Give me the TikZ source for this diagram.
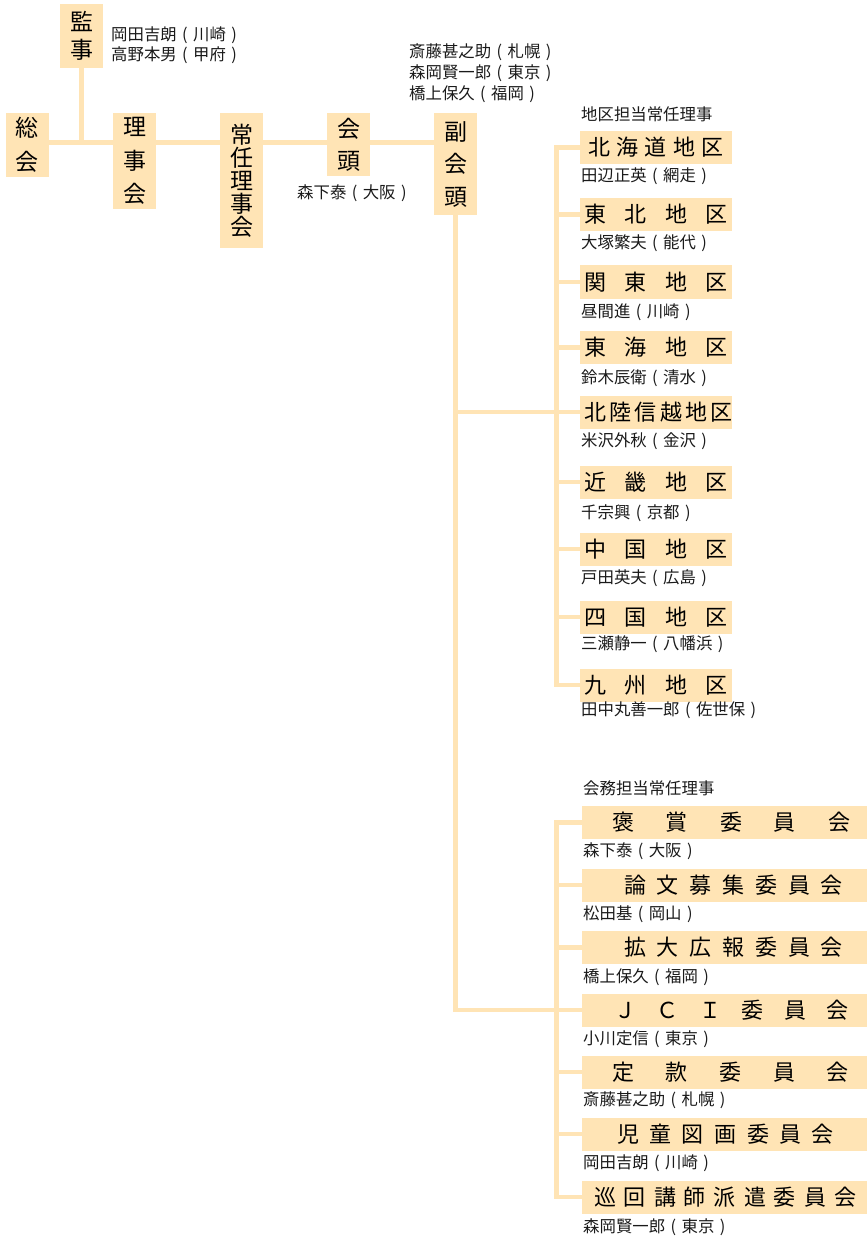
\documentclass[tikz,border=0pt]{standalone}
\usepackage{fontspec}
\setmainfont{Noto Sans CJK JP}
\usepackage{xcolor}
\usetikzlibrary{backgrounds}
\definecolor{boxfill}{HTML}{FFE4B5}
\definecolor{namegray}{HTML}{1A1A1A}
% spread characters over a given width (optional shift of the text)
\newcommand\spreadtext[3][0]{\hspace*{#1pt}\makebox[#2pt][s]{#3}}
% place name in parentheses, each one centred in a full square
\newcommand\place[1]{\makebox[1em]{(}#1\makebox[1em]{)}}

\begin{document}
\begin{tikzpicture}[x=1pt,y=-1pt,
    box/.style={fill=boxfill,inner sep=0pt,text=black},
    vbox/.style={box,minimum width=43pt,align=center},
    areabox/.style={box,minimum width=152pt,minimum height=33pt,font=\fontsize{22}{22}\selectfont},
    dutybox/.style={box,minimum width=285pt,minimum height=33pt,font=\fontsize{22}{22}\selectfont},
    person/.style={inner sep=0pt,text=namegray,anchor=west,font=\fontsize{16.4}{21}\selectfont},
    link/.style={draw=boxfill,line width=4.5pt,line cap=rect}]
        \useasboundingbox (0,0) rectangle (867,1238);

        % Top row: 総会 ... 副会頭
        \node[vbox,minimum height=64pt,font=\fontsize{23}{28}\selectfont] (kanji) at (81.5,36) {監\\事};
        \node[person,align=left,font=\fontsize{16.4}{20}\selectfont] (kanjinames) at (111,45) {岡田吉朗\place{川崎}\\高野本男\place{甲府}};
        \node[vbox,minimum height=64pt,font=\fontsize{23}{34}\selectfont] (sokai) at (27.5,145) {総\\会};
        \node[vbox,minimum height=96pt,font=\fontsize{23}{33.5}\selectfont] (riji) at (134.5,161) {理\\事\\会};
        \node[vbox,minimum height=135pt,font=\fontsize{23}{23}\selectfont] (jonin) at (241.5,180.5) {常\\任\\理\\事\\会};
        \node[vbox,minimum height=63pt,font=\fontsize{23}{32}\selectfont] (kaito) at (348.5,144.5) {会\\頭};
        \node[person] (kaitoname) at (297,193) {森下泰\place{大阪}};
        \node[vbox,minimum height=102pt,font=\fontsize{23}{32.5}\selectfont] (fukukaito) at (455.5,164) {副\\会\\頭};
        \node[person,align=left] (fukunames) at (409,73) {斎藤甚之助\place{札幌}\\森岡賢一郎\place{東京}\\橋上保久\place{福岡}};

        % Areas
        \node[person] (areahead) at (581,114) {地区担当常任理事};
        \node[areabox] (hokkaido) at (656,147.5) {\spreadtext{135.5}{北 海 道 地 区}};
        \node[person] (hokkaidoname) at (581,176) {田辺正英\place{網走}};
        \node[areabox] (tohoku) at (656,214.5) {\spreadtext{143}{東 北 地 区}};
        \node[person] (tohokuname) at (581,243) {大塚繁夫\place{能代}};
        \node[areabox] (kanto) at (656,282) {\spreadtext{143}{関 東 地 区}};
        \node[person] (kantoname) at (581,312) {昼間進\place{川崎}};
        \node[areabox] (tokai) at (656,347.5) {\spreadtext{143}{東 海 地 区}};
        \node[person] (tokainame) at (581,378) {鈴木辰衛\place{清水}};
        \node[areabox] (hokuriku) at (656,412) {\spreadtext{143.5}{北 陸 信 越 地 区}};
        \node[person] (hokurikuname) at (581,441) {米沢外秋\place{金沢}};
        \node[areabox] (kinki) at (656,482) {\spreadtext{143}{近 畿 地 区}};
        \node[person] (kinkiname) at (581,513) {千宗興\place{京都}};
        \node[areabox] (chugoku) at (656,549) {\spreadtext{143}{中 国 地 区}};
        \node[person] (chugokuname) at (581,578) {戸田英夫\place{広島}};
        \node[areabox] (shikoku) at (656,617) {\spreadtext{143}{四 国 地 区}};
        \node[person] (shikokuname) at (581,644) {三瀬静一\place{八幡浜}};
        \node[areabox] (kyushu) at (656,685) {\spreadtext{143}{九 州 地 区}};
        \node[person] (kyushuname) at (581,710) {田中丸善一郎\place{佐世保}};

        % Committees
        \node[person] (dutyhead) at (583,788) {会務担当常任理事};
        \node[dutybox] (hosho) at (724.5,822.5) {\spreadtext[13]{238}{褒 賞 委 員 会}};
        \node[person] (hoshoname) at (583,851) {森下泰\place{大阪}};
        \node[dutybox] (ronbun) at (724.5,885) {\spreadtext[18]{219}{論 文 募 集 委 員 会}};
        \node[person] (ronbunname) at (583,914) {松田基\place{岡山}};
        \node[dutybox] (kodai) at (724.5,947.5) {\spreadtext[18]{219}{拡 大 広 報 委 員 会}};
        \node[person] (kodainame) at (583,977) {橋上保久\place{福岡}};
        \node[dutybox] (jci) at (724.5,1010) {\spreadtext[14]{235}{Ｊ Ｃ Ｉ 委 員 会}};
        \node[person] (jciname) at (583,1039) {小川定信\place{東京}};
        \node[dutybox] (teikan) at (724.5,1072) {\spreadtext[12]{237}{定 款 委 員 会}};
        \node[person] (teikanname) at (583,1100) {斎藤甚之助\place{札幌}};
        \node[dutybox] (jido) at (724.5,1134) {\spreadtext[2]{217}{児 童 図 画 委 員 会}};
        \node[person] (jidoname) at (583,1163) {岡田吉朗\place{川崎}};
        \node[dutybox] (junkai) at (724.5,1197) {\spreadtext[1]{262}{巡 回 講 師 派 遣 委 員 会}};
        \node[person] (junkainame) at (583,1227) {森岡賢一郎\place{東京}};

        % Lines behind the boxes
        \begin{scope}[on background layer]
            \coordinate (spine) at (0,142.5);
            \coordinate (bus) at (556.5,0);
            \draw[link] (sokai.east |- spine) -- (fukukaito.west |- spine);
            \draw[link] (kanji.south) -- (kanji.south |- spine);
            \draw[link] (fukukaito.south) |- (jci.west);
            \draw[link] (fukukaito.south |- hokuriku.west) -- (hokuriku.west);
            \draw[link] (bus |- hokkaido.west) -- (bus |- kyushu.west);
            \draw[link] (bus |- hosho.west) -- (bus |- junkai.west);
            \draw[link] (bus |- hokkaido.west) -- (hokkaido.west);
            \draw[link] (bus |- tohoku.west) -- (tohoku.west);
            \draw[link] (bus |- kanto.west) -- (kanto.west);
            \draw[link] (bus |- tokai.west) -- (tokai.west);
            \draw[link] (bus |- kinki.west) -- (kinki.west);
            \draw[link] (bus |- chugoku.west) -- (chugoku.west);
            \draw[link] (bus |- shikoku.west) -- (shikoku.west);
            \draw[link] (bus |- kyushu.west) -- (kyushu.west);
            \draw[link] (bus |- hosho.west) -- (hosho.west);
            \draw[link] (bus |- ronbun.west) -- (ronbun.west);
            \draw[link] (bus |- kodai.west) -- (kodai.west);
            \draw[link] (bus |- teikan.west) -- (teikan.west);
            \draw[link] (bus |- jido.west) -- (jido.west);
            \draw[link] (bus |- junkai.west) -- (junkai.west);
        \end{scope}
    \end{tikzpicture}
\end{document}
